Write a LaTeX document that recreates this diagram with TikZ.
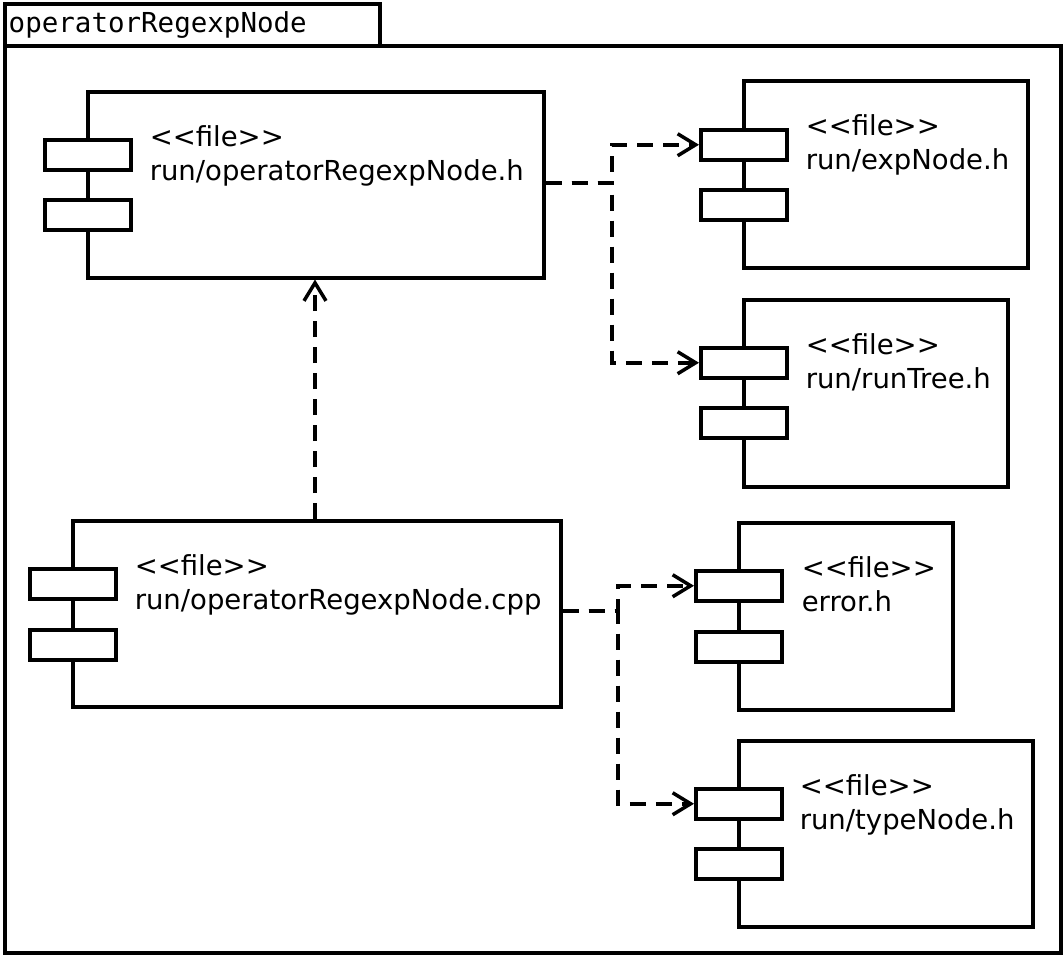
\documentclass[tikz,border=0pt]{standalone}
\usepackage{fontspec}
\setmainfont{DejaVu Sans}
\newfontfamily\pkgfont{DejaVu Sans Mono}
\usetikzlibrary{positioning,arrows.meta}

\begin{document}
\begin{tikzpicture}
[x=1pt, y=-1pt, line width=3.5pt,
 comp/.style={draw, fill=white, anchor=north west, inner sep=0pt},
 port/.style={comp, minimum width=86pt, minimum height=30pt},
 label/.style={anchor=north west, align=left, inner sep=0pt, font=\fontsize{27.5}{34}\selectfont},
 dep/.style={dash pattern=on 16pt off 10pt, -{Straight Barb[length=18pt,width=22pt,line width=3.5pt]}}]
\useasboundingbox (0,0) rectangle (1063,954);
% package
\node[comp, minimum width=375pt, minimum height=42pt] (tab) at (3,2) {};
\node[anchor=west, inner sep=0pt, font=\pkgfont\fontsize{27.5}{30}\selectfont] (pkgname) at (7,25) {operatorRegexpNode};
\node[comp, minimum width=1056pt, minimum height=907pt] (pkg) at (3,44) {};
% components
\node[comp, minimum width=456pt, minimum height=186pt] (hdr) at (86,90) {};
\node[port] (hdrp1) at (43,138) {};
\node[port] (hdrp2) at (43,198) {};
\node[label] (hdrt) at (148,124) {<{}<file>{}>\\run/operatorRegexpNode.h};

\node[comp, minimum width=284pt, minimum height=187pt] (exp) at (742,79) {};
\node[port] (expp1) at (699,128) {};
\node[port] (expp2) at (699,188) {};
\node[label] (expt) at (804,113) {<{}<file>{}>\\run/expNode.h};

\node[comp, minimum width=264pt, minimum height=187pt] (tree) at (742,298) {};
\node[port] (treep1) at (699,346) {};
\node[port] (treep2) at (699,406) {};
\node[label] (treet) at (804,332) {<{}<file>{}>\\run/runTree.h};

\node[comp, minimum width=488pt, minimum height=186pt] (src) at (71,519) {};
\node[port] (srcp1) at (28,567) {};
\node[port] (srcp2) at (28,628) {};
\node[label] (srct) at (133,553) {<{}<file>{}>\\run/operatorRegexpNode.cpp};

\node[comp, minimum width=214pt, minimum height=187pt] (err) at (737,521) {};
\node[port] (errp1) at (694,569) {};
\node[port] (errp2) at (694,630) {};
\node[label] (errt) at (800,555) {<{}<file>{}>\\error.h};

\node[comp, minimum width=294pt, minimum height=186pt] (type) at (737,739) {};
\node[port] (typep1) at (694,787) {};
\node[port] (typep2) at (694,847) {};
\node[label] (typet) at (798,773) {<{}<file>{}>\\run/typeNode.h};
% dependencies
\draw[dep] (hdr.east |- 0,183) -- (612,183) |- (expp1.west);
\draw[dep] (hdr.east |- 0,183) -- (612,183) |- (treep1.west);
\draw[dep] (src.east |- 0,611) -- (618,611) |- (errp1.west);
\draw[dep] (src.east |- 0,611) -- (618,611) |- (typep1.west);
\draw[dep] (src.north -| 315,0) -- (hdr.south -| 315,0);
\end{tikzpicture}
\end{document}
